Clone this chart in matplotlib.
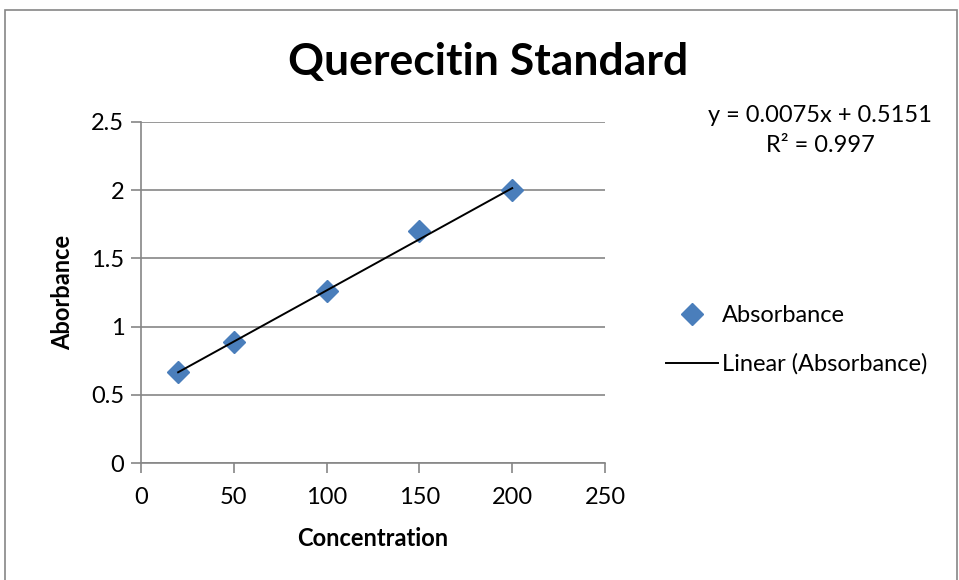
import matplotlib
matplotlib.use("Agg")
import matplotlib.pyplot as plt
from matplotlib.patches import Rectangle
import numpy as np

# Quercetin standard curve readings
concentration = [20, 50, 100, 150, 200]
absorbance = [0.67, 0.89, 1.26, 1.70, 2.00]

# Fitted line as reported on the chart
slope = 0.0075
intercept = 0.5151
r_squared = 0.997

x_ticks = [0, 50, 100, 150, 200, 250]
y_ticks = [0, 0.5, 1, 1.5, 2, 2.5]

plt.rcParams["font.family"] = ["Lato", "DejaVu Sans"]

GRID = "#868686"
BLUE = "#4A7EBB"

fig = plt.figure(figsize=(9.59, 5.80), dpi=100)
fig.patches.append(Rectangle((5 / 959, -0.05), 952 / 959, 1 - 10 / 580 + 0.05,
                             transform=fig.transFigure, fill=False,
                             edgecolor=GRID, linewidth=1.2))

ax = fig.add_axes([141 / 959, 1 - 463 / 580, 464 / 959, 341 / 580])

ax.plot(concentration, absorbance, linestyle="none", marker="D",
        markersize=11, color=BLUE, label="Absorbance", zorder=3)

fit_x = np.array([min(concentration), max(concentration)])
ax.plot(fit_x, slope * fit_x + intercept, color="black", linewidth=1.4,
        label="Linear (Absorbance)", zorder=4)

ax.set_xlim(0, 250)
ax.set_ylim(0, 2.5)
ax.set_xticks(x_ticks)
ax.set_yticks(y_ticks)
ax.set_xticklabels([str(t) for t in x_ticks])
ax.set_yticklabels([f"{t:g}" for t in y_ticks])
ax.tick_params(axis="both", labelsize=17, color=GRID, length=7, width=1.2,
               direction="out", pad=5)
ax.tick_params(axis="x", pad=10)
ax.grid(axis="y", color=GRID, linewidth=1.2)
ax.set_axisbelow(True)
for side in ("top", "right"):
    ax.spines[side].set_visible(False)
for side in ("left", "bottom"):
    ax.spines[side].set_color(GRID)
    ax.spines[side].set_linewidth(1.2)

ax.set_xlabel("Concentration", fontsize=17, fontweight="bold", labelpad=14)
ax.set_ylabel("Aborbance", fontsize=17, fontweight="bold", labelpad=12)

fig.text(488 / 959, 1 - 62 / 580, "Querecitin Standard", ha="center",
         va="center", fontsize=32, fontweight="bold")

fig.text(820 / 959, 1 - 115 / 580, f"y = {slope}x + {intercept}",
         ha="center", va="center", fontsize=17)
fig.text(820 / 959, 1 - 146 / 580, f"R\u00b2 = {r_squared}",
         ha="center", va="center", fontsize=17)

ax.legend(loc="center left", bbox_to_anchor=(1.085, 0.36), frameon=False,
          fontsize=17, handlelength=2.2, handletextpad=0.2, labelspacing=1.15)

fig.savefig("out.png", dpi=100)
